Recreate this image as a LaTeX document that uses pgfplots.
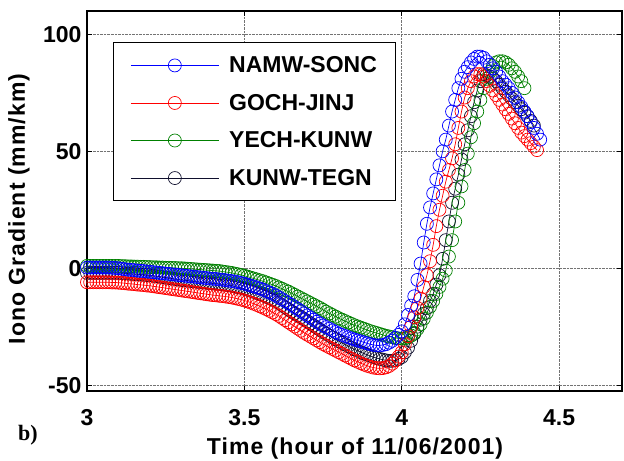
\documentclass[border=0pt]{standalone}
\usepackage{fontspec}
\setmainfont{Liberation Sans}
\newfontfamily\timesb{Liberation Serif}
\newfontfamily\lsfont[LetterSpace=4.5]{Liberation Sans}
\usepackage{pgfplots}
\pgfplotsset{compat=1.18}
\usepackage{pgfplotstable}

\definecolor{mblue}{RGB}{0,0,255}
\definecolor{mred}{RGB}{255,0,0}
\definecolor{mgreen}{RGB}{0,128,0}
\definecolor{mblack}{RGB}{15,15,45}

\pgfplotstableread{
x y
3.00 0.3
3.01 0.3
3.02 0.3
3.03 0.3
3.04 0.3
3.05 0.3
3.06 0.3
3.07 0.3
3.08 0.2
3.09 0.1
3.10 0.0
3.11 -0.2
3.12 -0.4
3.13 -0.6
3.14 -0.7
3.15 -0.8
3.16 -1.0
3.17 -1.1
3.18 -1.2
3.19 -1.4
3.20 -1.5
3.21 -1.7
3.22 -1.8
3.23 -2.0
3.24 -2.1
3.25 -2.3
3.26 -2.4
3.27 -2.6
3.28 -2.7
3.29 -2.9
3.30 -3.0
3.31 -3.2
3.32 -3.3
3.33 -3.5
3.34 -3.6
3.35 -3.8
3.36 -3.9
3.37 -4.1
3.38 -4.2
3.39 -4.4
3.40 -4.5
3.41 -4.6
3.42 -4.8
3.43 -4.9
3.44 -5.1
3.45 -5.3
3.46 -5.5
3.47 -5.7
3.48 -6.0
3.49 -6.3
3.50 -6.6
3.51 -7.0
3.52 -7.4
3.53 -7.8
3.54 -8.2
3.55 -8.7
3.56 -9.2
3.57 -9.8
3.58 -10.4
3.59 -11.0
3.60 -11.7
3.61 -12.5
3.62 -13.3
3.63 -14.1
3.64 -14.9
3.65 -15.7
3.66 -16.6
3.67 -17.5
3.68 -18.4
3.69 -19.3
3.70 -20.2
3.71 -21.1
3.72 -22.0
3.73 -22.9
3.74 -23.7
3.75 -24.5
3.76 -25.2
3.77 -25.9
3.78 -26.6
3.79 -27.3
3.80 -28.0
3.81 -28.5
3.82 -29.0
3.83 -29.5
3.84 -30.0
3.85 -30.5
3.86 -30.9
3.87 -31.3
3.88 -31.7
3.89 -32.1
3.90 -32.5
3.91 -32.8
3.92 -33.0
3.93 -33.0
3.94 -32.8
3.95 -32.5
3.96 -31.8
3.97 -31.0
3.98 -29.8
3.99 -28.5
4.00 -27.0
4.01 -24.0
4.02 -20.0
4.03 -16.0
4.04 -12.0
4.05 -5.0
4.06 2.0
4.07 11.0
4.08 19.0
4.09 26.0
4.10 32.0
4.11 38.0
4.12 44.0
4.13 50.0
4.14 55.0
4.15 61.0
4.16 67.0
4.17 72.0
4.18 77.0
4.19 81.0
4.20 84.0
4.21 86.0
4.22 88.0
4.23 89.5
4.24 90.5
4.25 90.5
4.26 90.0
4.27 88.5
4.28 87.0
4.29 85.5
4.30 84.0
4.31 82.0
4.32 80.0
4.33 78.5
4.34 77.0
4.35 75.0
4.36 73.0
4.37 71.0
4.38 69.0
4.39 67.0
4.40 65.0
4.41 62.5
4.42 60.0
4.43 57.5
4.44 55.0
}\blueT

\pgfplotstableread{
x y
3.00 -6.0
3.01 -6.0
3.02 -6.0
3.03 -6.0
3.04 -6.0
3.05 -6.0
3.06 -6.0
3.07 -6.0
3.08 -6.1
3.09 -6.1
3.10 -6.2
3.11 -6.3
3.12 -6.4
3.13 -6.6
3.14 -6.7
3.15 -6.8
3.16 -7.0
3.17 -7.1
3.18 -7.2
3.19 -7.4
3.20 -7.5
3.21 -7.7
3.22 -7.9
3.23 -8.1
3.24 -8.3
3.25 -8.5
3.26 -8.7
3.27 -8.9
3.28 -9.1
3.29 -9.3
3.30 -9.5
3.31 -9.7
3.32 -9.9
3.33 -10.1
3.34 -10.3
3.35 -10.5
3.36 -10.7
3.37 -10.9
3.38 -11.1
3.39 -11.3
3.40 -11.5
3.41 -11.6
3.42 -11.8
3.43 -11.9
3.44 -12.1
3.45 -12.3
3.46 -12.5
3.47 -12.8
3.48 -13.1
3.49 -13.4
3.50 -13.8
3.51 -14.2
3.52 -14.7
3.53 -15.2
3.54 -15.7
3.55 -16.3
3.56 -16.9
3.57 -17.5
3.58 -18.2
3.59 -18.9
3.60 -19.6
3.61 -20.4
3.62 -21.3
3.63 -22.2
3.64 -23.1
3.65 -24.0
3.66 -24.9
3.67 -25.8
3.68 -26.7
3.69 -27.6
3.70 -28.4
3.71 -29.2
3.72 -30.0
3.73 -30.8
3.74 -31.6
3.75 -32.4
3.76 -33.1
3.77 -33.8
3.78 -34.5
3.79 -35.2
3.80 -35.9
3.81 -36.6
3.82 -37.3
3.83 -38.0
3.84 -38.7
3.85 -39.4
3.86 -40.0
3.87 -40.6
3.88 -41.2
3.89 -41.7
3.90 -42.1
3.91 -42.5
3.92 -42.7
3.93 -42.8
3.94 -42.7
3.95 -42.4
3.96 -41.8
3.97 -40.8
3.98 -39.4
3.99 -37.8
4.00 -36.0
4.01 -32.5
4.02 -29.0
4.03 -25.0
4.04 -21.0
4.05 -17.0
4.06 -13.0
4.07 -8.0
4.08 -3.0
4.09 3.0
4.10 10.0
4.11 18.0
4.12 25.0
4.13 31.0
4.14 37.0
4.15 42.0
4.16 47.0
4.17 53.0
4.18 60.0
4.19 67.0
4.20 73.0
4.21 77.0
4.22 80.0
4.23 82.0
4.24 83.0
4.25 83.0
4.26 82.0
4.27 80.0
4.28 78.0
4.29 76.0
4.30 74.0
4.31 72.0
4.32 70.0
4.33 68.0
4.34 66.0
4.35 64.0
4.36 62.0
4.37 60.0
4.38 58.0
4.39 56.5
4.40 55.0
4.41 53.5
4.42 52.0
4.43 50.5
}\redT

\pgfplotstableread{
x y
3.00 1.0
3.01 1.0
3.02 1.0
3.03 1.0
3.04 1.0
3.05 1.0
3.06 1.0
3.07 1.0
3.08 1.0
3.09 1.0
3.10 1.0
3.11 0.9
3.12 0.9
3.13 0.8
3.14 0.8
3.15 0.7
3.16 0.7
3.17 0.6
3.18 0.6
3.19 0.5
3.20 0.5
3.21 0.4
3.22 0.4
3.23 0.3
3.24 0.3
3.25 0.2
3.26 0.2
3.27 0.1
3.28 0.1
3.29 0.0
3.30 0.0
3.31 -0.1
3.32 -0.2
3.33 -0.3
3.34 -0.4
3.35 -0.5
3.36 -0.6
3.37 -0.7
3.38 -0.8
3.39 -0.9
3.40 -1.0
3.41 -1.1
3.42 -1.2
3.43 -1.4
3.44 -1.6
3.45 -1.8
3.46 -2.0
3.47 -2.3
3.48 -2.6
3.49 -2.9
3.50 -3.2
3.51 -3.6
3.52 -4.0
3.53 -4.4
3.54 -4.8
3.55 -5.2
3.56 -5.6
3.57 -6.1
3.58 -6.6
3.59 -7.1
3.60 -7.6
3.61 -8.2
3.62 -8.8
3.63 -9.4
3.64 -10.0
3.65 -10.7
3.66 -11.4
3.67 -12.1
3.68 -12.8
3.69 -13.5
3.70 -14.2
3.71 -14.9
3.72 -15.6
3.73 -16.3
3.74 -17.0
3.75 -17.8
3.76 -18.6
3.77 -19.3
3.78 -20.0
3.79 -20.7
3.80 -21.4
3.81 -22.0
3.82 -22.6
3.83 -23.2
3.84 -23.8
3.85 -24.4
3.86 -24.9
3.87 -25.4
3.88 -25.9
3.89 -26.4
3.90 -26.9
3.91 -27.3
3.92 -27.7
3.93 -28.1
3.94 -28.5
3.95 -28.9
3.96 -29.2
3.97 -29.5
3.98 -29.8
3.99 -30.0
4.00 -30.1
4.01 -30.0
4.02 -29.6
4.03 -28.8
4.04 -27.6
4.05 -26.0
4.06 -24.0
4.07 -21.6
4.08 -19.0
4.09 -16.5
4.10 -14.0
4.11 -11.0
4.12 -8.0
4.13 -4.5
4.14 -1.0
4.15 5.0
4.16 12.0
4.17 20.0
4.18 28.0
4.19 35.0
4.20 42.0
4.21 49.0
4.22 56.0
4.23 62.0
4.24 67.0
4.25 72.0
4.26 77.0
4.27 81.0
4.28 84.0
4.29 86.5
4.30 88.0
4.31 88.5
4.32 88.5
4.33 88.0
4.34 87.0
4.35 85.5
4.36 84.0
4.37 82.0
4.38 80.0
4.39 77.0
}\greenT

\pgfplotstableread{
x y
3.00 -2.0
3.01 -2.0
3.02 -2.0
3.03 -2.0
3.04 -2.0
3.05 -2.0
3.06 -2.0
3.07 -2.0
3.08 -2.0
3.09 -2.0
3.10 -2.0
3.11 -2.1
3.12 -2.2
3.13 -2.3
3.14 -2.4
3.15 -2.5
3.16 -2.6
3.17 -2.7
3.18 -2.8
3.19 -2.9
3.20 -3.0
3.21 -3.2
3.22 -3.4
3.23 -3.6
3.24 -3.8
3.25 -4.0
3.26 -4.2
3.27 -4.4
3.28 -4.6
3.29 -4.8
3.30 -5.0
3.31 -5.2
3.32 -5.3
3.33 -5.5
3.34 -5.6
3.35 -5.8
3.36 -5.9
3.37 -6.1
3.38 -6.2
3.39 -6.4
3.40 -6.5
3.41 -6.6
3.42 -6.7
3.43 -6.9
3.44 -7.1
3.45 -7.3
3.46 -7.5
3.47 -7.8
3.48 -8.1
3.49 -8.4
3.50 -8.8
3.51 -9.2
3.52 -9.6
3.53 -10.1
3.54 -10.6
3.55 -11.1
3.56 -11.6
3.57 -12.2
3.58 -12.8
3.59 -13.4
3.60 -14.0
3.61 -14.9
3.62 -15.8
3.63 -16.7
3.64 -17.6
3.65 -18.5
3.66 -19.3
3.67 -20.1
3.68 -20.9
3.69 -21.8
3.70 -22.7
3.71 -23.6
3.72 -24.5
3.73 -25.4
3.74 -26.3
3.75 -27.2
3.76 -28.0
3.77 -28.8
3.78 -29.6
3.79 -30.4
3.80 -31.2
3.81 -31.9
3.82 -32.6
3.83 -33.3
3.84 -34.0
3.85 -34.7
3.86 -35.3
3.87 -35.9
3.88 -36.5
3.89 -37.0
3.90 -37.5
3.91 -38.0
3.92 -38.4
3.93 -38.8
3.94 -39.1
3.95 -39.4
3.96 -39.6
3.97 -39.6
3.98 -39.4
3.99 -38.8
4.00 -38.0
4.01 -36.0
4.02 -34.0
4.03 -31.0
4.04 -28.0
4.05 -25.0
4.06 -22.0
4.07 -19.5
4.08 -17.0
4.09 -14.0
4.10 -11.0
4.11 -7.0
4.12 -3.0
4.13 4.0
4.14 12.0
4.15 20.0
4.16 28.0
4.17 34.0
4.18 40.0
4.19 46.5
4.20 53.0
4.21 59.0
4.22 65.0
4.23 71.0
4.24 76.0
4.25 80.0
4.26 83.0
4.27 82.5
4.28 82.0
4.29 81.0
4.30 80.0
4.31 78.5
4.32 77.0
4.33 75.5
4.34 74.0
4.35 72.5
4.36 71.0
4.37 69.5
4.38 68.0
4.39 66.5
4.40 65.0
4.41 63.0
4.42 61.0
}\blackT

\begin{document}
\begin{tikzpicture}
\useasboundingbox (-87bp,-70bp) rectangle (537bp,391bp);
\begin{axis}[
  at={(0,0)}, anchor=south west,
  scale only axis, width=535bp, height=380bp,
  xmin=3, xmax=4.7, ymin=-52.5, ymax=110,
  xtick={3,3.5,4,4.5}, ytick={-50,0,50,100},
  xticklabels={3,3.5,4,4.5},
  yticklabels={-50,0,50,100},
  tick label style={font=\fontsize{23bp}{25bp}\selectfont\bfseries},
  xticklabel style={anchor=base, yshift=-34bp},
  yticklabel style={xshift=-2bp},
  grid=major,
  grid style={densely dotted, black!55, line width=0.6bp},
  tick align=inside, major tick length=5bp,
  tick style={black, line width=0.9bp},
  axis line style={line width=1.5bp},
  xlabel={Time (hour of 11/06/2001)},
  ylabel={Iono Gradient (mm/km)},
  label style={font=\lsfont\fontsize{23bp}{26bp}\selectfont\bfseries},
  xlabel style={at={(axis description cs:0.501,-0.168)}, anchor=base},
  ylabel style={at={(axis description cs:-0.116,0.479)}, anchor=base},
  clip=false,
  legend style={at={(rel axis cs:0.0486,0.918)}, anchor=north west,
    draw=black, line width=1bp,
    font=\fontsize{23bp}{25bp}\selectfont\bfseries,
    row sep=16bp, inner xsep=17bp, inner ysep=12bp,
    /tikz/every odd column/.append style={column sep=8bp}},
  legend cell align=left,
  legend image code/.code={%
    \draw[mark repeat=2, mark phase=2, #1] plot coordinates {(0bp,0bp) (44bp,0bp) (88bp,0bp)};},
  every axis plot/.append style={mark=o, mark size=6.5bp, line width=0.7bp},
]
\addlegendimage{mblue, mark=o, mark size=6.5bp, line width=0.7bp}
\addlegendentry{NAMW-SONC}
\addlegendimage{mred, mark=o, mark size=6.5bp, line width=0.7bp}
\addlegendentry{GOCH-JINJ}
\addlegendimage{mgreen, mark=o, mark size=6.5bp, line width=0.7bp}
\addlegendentry{YECH-KUNW}
\addlegendimage{mblack, mark=o, mark size=6.5bp, line width=0.7bp}
\addlegendentry{KUNW-TEGN}

\addplot[mblack, forget plot] table {\blackT};
\addplot[mgreen, forget plot] table {\greenT};
\addplot[mred, forget plot] table {\redT};
\addplot[mblue, forget plot] table {\blueT};
\end{axis}
\node[font=\timesb\fontsize{22bp}{24bp}\selectfont\bfseries] at (-59bp,-44bp) {b)};
\end{tikzpicture}
\end{document}
